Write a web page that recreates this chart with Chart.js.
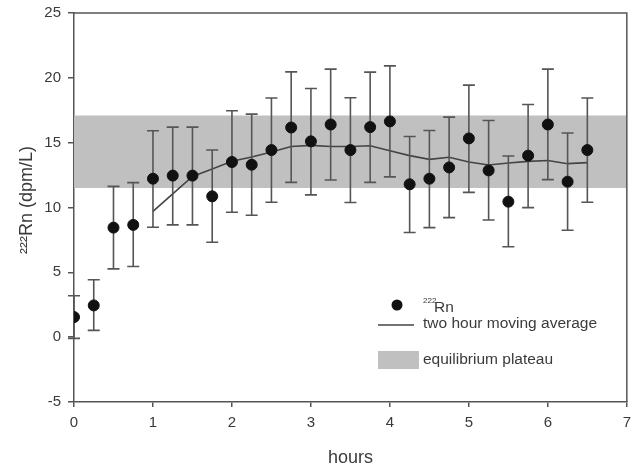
<!DOCTYPE html>
<html>
<head>
<meta charset="utf-8">
<script src="https://cdn.jsdelivr.net/npm/chart.js@4.4.1/dist/chart.umd.min.js"></script>
<style>
html,body{margin:0;padding:0;background:#fff;overflow:hidden;}
#wrap{width:634px;height:469px;position:relative;overflow:hidden;}
#c{position:absolute;left:0;top:0;}
</style>
</head>
<body>
<div id="wrap"><canvas id="c" width="638" height="469" style="width:638px;height:469px;"></canvas></div>
<script>
// ---- data ----
const hours = [0, 0.25, 0.5, 0.75, 1, 1.25, 1.5, 1.75, 2, 2.25, 2.5, 2.75, 3, 3.25, 3.5, 3.75, 4, 4.25, 4.5, 4.75, 5, 5.25, 5.5, 5.75, 6, 6.25, 6.5];
const rn222 = [1.55, 2.45, 8.45, 8.66, 12.22, 12.46, 12.46, 10.86, 13.51, 13.30, 14.43, 16.17, 15.10, 16.40, 14.43, 16.20, 16.64, 11.79, 12.22, 13.09, 15.33, 12.86, 10.45, 14.00, 16.40, 11.99, 14.43];
const rnUpper = [3.19, 4.43, 11.63, 11.92, 15.92, 16.20, 16.20, 14.43, 17.46, 17.20, 18.44, 20.46, 19.18, 20.67, 18.46, 20.44, 20.92, 15.48, 15.94, 16.97, 19.44, 16.71, 13.97, 17.94, 20.67, 15.74, 18.44];
const rnLower = [-0.09, 0.52, 5.27, 5.45, 8.48, 8.66, 8.66, 7.32, 9.63, 9.40, 10.40, 11.94, 10.97, 12.12, 10.38, 11.94, 12.36, 8.07, 8.45, 9.22, 11.17, 9.04, 6.97, 9.99, 12.15, 8.24, 10.40];
const avgHours = [1, 1.25, 1.5, 1.75, 2, 2.25, 2.5, 2.75, 3, 3.25, 3.5, 3.75, 4, 4.25, 4.5, 4.75, 5, 5.25, 5.5, 5.75, 6, 6.25, 6.5];
const movingAvg = [9.70, 11.05, 12.40, 12.97, 13.56, 13.89, 14.28, 14.71, 14.79, 14.71, 14.71, 14.76, 14.38, 14.00, 13.71, 13.87, 13.51, 13.28, 13.43, 13.56, 13.63, 13.38, 13.46];
const plateauX = [0, 7];
const plateauLow = 11.5;
const plateauHigh = 17.1;
const xTicks = [0, 1, 2, 3, 4, 5, 6, 7];
const yTicks = [-5, 0, 5, 10, 15, 20, 25];
const legendLabels = ['Rn', 'two hour moving average', 'equilibrium plateau'];

const FONT = "'Liberation Sans', Arial, sans-serif";
const AXIS = '#555';
const TEXT = '#3a3a3a';

const pointData = hours.map((h, i) => ({x: h, y: rn222[i]}));
const avgData = avgHours.map((h, i) => ({x: h, y: movingAvg[i]}));

const errorBars = {
  id: 'errorBars',
  beforeDatasetDraw(chart, args) {
    if (args.index !== 0) return;
    const {ctx, scales: {x, y}} = chart;
    ctx.save();
    ctx.strokeStyle = '#555';
    ctx.lineWidth = 1.6;
    const cap = 6;
    hours.forEach((h, i) => {
      const px = x.getPixelForValue(h);
      const pu = y.getPixelForValue(rnUpper[i]);
      const pl = y.getPixelForValue(rnLower[i]);
      ctx.beginPath();
      ctx.moveTo(px, pu); ctx.lineTo(px, pl);
      ctx.moveTo(px - cap, pu); ctx.lineTo(px + cap, pu);
      ctx.moveTo(px - cap, pl); ctx.lineTo(px + cap, pl);
      ctx.stroke();
    });
    ctx.restore();
  }
};

const frame = {
  id: 'frame',
  afterDatasetsDraw(chart) {
    const {ctx, chartArea: a} = chart;
    ctx.save();
    ctx.strokeStyle = AXIS;
    ctx.lineWidth = 1.5;
    ctx.beginPath();
    ctx.moveTo(a.left, a.top); ctx.lineTo(a.right, a.top); ctx.lineTo(a.right, a.bottom);
    ctx.stroke();
    ctx.restore();
  }
};

const customLegend = {
  id: 'customLegend',
  afterDraw(chart) {
    const {ctx} = chart;
    ctx.save();
    ctx.fillStyle = '#111';
    ctx.beginPath();
    ctx.arc(397, 305, 5.5, 0, Math.PI * 2);
    ctx.fill();
    ctx.fillStyle = TEXT;
    ctx.textBaseline = 'alphabetic';
    ctx.textAlign = 'left';
    ctx.font = '8px ' + FONT;
    ctx.fillText('222', 423, 303);
    ctx.font = '15.5px ' + FONT;
    ctx.fillText(legendLabels[0], 434, 312);
    ctx.strokeStyle = '#444';
    ctx.lineWidth = 1.5;
    ctx.beginPath();
    ctx.moveTo(378, 325); ctx.lineTo(414, 325);
    ctx.stroke();
    ctx.fillText(legendLabels[1], 423, 328);
    ctx.fillStyle = '#c0c0c0';
    ctx.fillRect(378, 351, 41, 18);
    ctx.fillStyle = TEXT;
    ctx.fillText(legendLabels[2], 423, 364);
    ctx.restore();
  }
};

new Chart(document.getElementById('c'), {
  type: 'scatter',
  data: {
    datasets: [
      {
        label: 'Rn',
        data: pointData,
        backgroundColor: '#111',
        borderColor: '#111',
        pointRadius: 5.5,
        pointHoverRadius: 5.5,
        showLine: false
      },
      {
        label: 'two hour moving average',
        data: avgData,
        showLine: true,
        borderColor: '#444',
        borderWidth: 1.6,
        pointRadius: 0,
        fill: false,
        tension: 0
      },
      {
        label: 'plateau high',
        data: plateauX.map(v => ({x: v, y: plateauHigh})),
        showLine: true,
        borderWidth: 0,
        borderColor: 'rgba(0,0,0,0)',
        backgroundColor: '#c0c0c0',
        pointRadius: 0,
        fill: '+1'
      },
      {
        label: 'plateau low',
        data: plateauX.map(v => ({x: v, y: plateauLow})),
        showLine: true,
        borderWidth: 0,
        borderColor: 'rgba(0,0,0,0)',
        pointRadius: 0,
        fill: false
      }
    ]
  },
  options: {
    responsive: false,
    animation: false,
    layout: {padding: {top: 13, right: 3, left: 0, bottom: 0}},
    plugins: {
      legend: {display: false},
      tooltip: {enabled: false}
    },
    scales: {
      x: {
        type: 'linear',
        min: 0, max: 7,
        afterBuildTicks(s) { s.ticks = xTicks.map(v => ({value: v})); },
        afterFit(s) { s.height = 67; },
        grid: {display: true, drawOnChartArea: false, drawTicks: true, tickLength: 5, color: AXIS, lineWidth: 1.5},
        border: {display: true, color: AXIS, width: 1.5},
        ticks: {color: TEXT, font: {family: FONT, size: 15}, padding: 7, maxRotation: 0},
        title: {display: true, text: 'hours', color: TEXT, font: {family: FONT, size: 18}, padding: {top: 0, bottom: 0}}
      },
      y: {
        type: 'linear',
        min: -5, max: 25,
        afterBuildTicks(s) { s.ticks = yTicks.map(v => ({value: v})); },
        afterFit(s) { s.width = 74; s.paddingTop = 0; s.paddingBottom = 0; },
        grid: {display: true, drawOnChartArea: false, drawTicks: true, tickLength: 6, color: AXIS, lineWidth: 1.5},
        border: {display: true, color: AXIS, width: 1.5},
        ticks: {color: TEXT, font: {family: FONT, size: 15}, padding: 7},
        title: {display: true, text: '   ²²²Rn (dpm/L)', color: TEXT, font: {family: FONT, size: 18}, padding: {top: 16, bottom: 0}}
      }
    }
  },
  plugins: [errorBars, frame, customLegend]
});
</script>
</body>
</html>
